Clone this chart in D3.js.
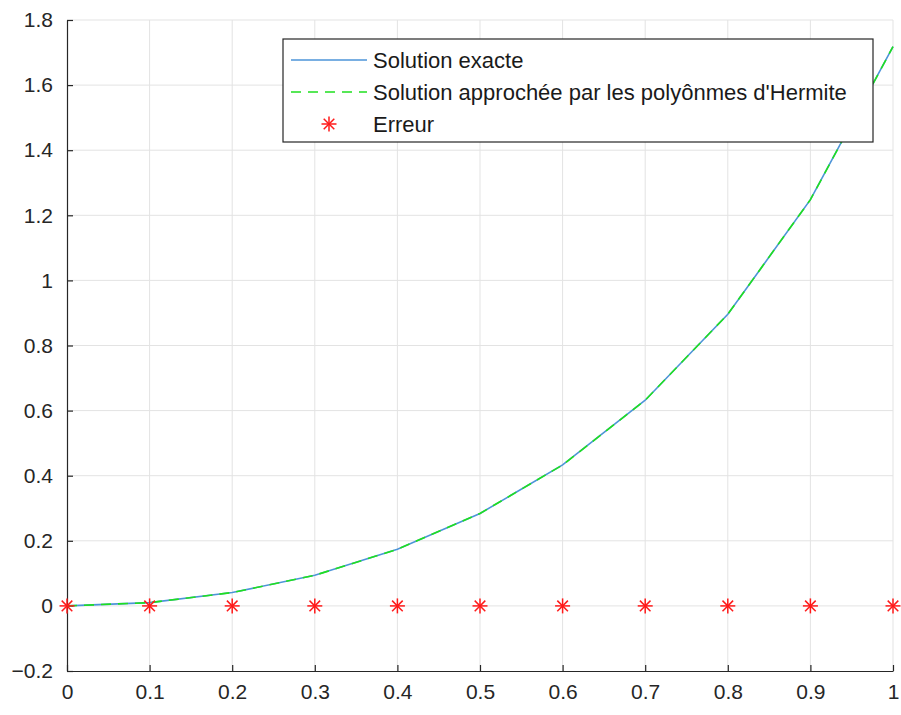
<!DOCTYPE html>
<html>
<head>
<meta charset="utf-8">
<script src="https://cdn.jsdelivr.net/npm/d3@7"></script>
<style>
  html, body { margin: 0; padding: 0; background: #fff; }
  svg { display: block; }
  text { font-family: "Liberation Sans", Arial, sans-serif; }
</style>
</head>
<body>
<svg id="chart" width="901" height="715"></svg>
<script>
const xValues = [0, 0.1, 0.2, 0.3, 0.4, 0.5, 0.6, 0.7, 0.8, 0.9, 1.0];
const exactValues = [0, 0.010, 0.041, 0.094, 0.174, 0.284, 0.433, 0.632, 0.896, 1.248, 1.718];
const hermiteValues = [0, 0.010, 0.041, 0.094, 0.174, 0.284, 0.433, 0.632, 0.896, 1.248, 1.718];
const errorValues = [0, 0, 0, 0, 0, 0, 0, 0, 0, 0, 0];
const xTicks = [0, 0.1, 0.2, 0.3, 0.4, 0.5, 0.6, 0.7, 0.8, 0.9, 1];
const yTicks = [-0.2, 0, 0.2, 0.4, 0.6, 0.8, 1, 1.2, 1.4, 1.6, 1.8];
const legendLabels = ["Solution exacte", "Solution approchée par les polyônmes d'Hermite", "Erreur"];

const svg = d3.select("#chart");
const margin = {left: 67, right: 8, top: 20, bottom: 44};
const W = 901, H = 715;
const x = d3.scaleLinear().domain([0, 1]).range([margin.left, W - margin.right]);
const y = d3.scaleLinear().domain([-0.2, 1.8]).range([H - margin.bottom, margin.top]);

const axisColor = "#262626";
const gridColor = "#e3e3e3";
const fmt = d => d3.format("")(+d.toFixed(1));

// grid
const g = svg.append("g");
g.selectAll(".vg").data(xTicks.slice(1)).enter().append("line")
  .attr("x1", d => x(d)).attr("x2", d => x(d))
  .attr("y1", y(-0.2)).attr("y2", y(1.8))
  .attr("stroke", gridColor).attr("stroke-width", 1);
g.selectAll(".hg").data(yTicks.slice(1)).enter().append("line")
  .attr("x1", x(0)).attr("x2", x(1))
  .attr("y1", d => y(d)).attr("y2", d => y(d))
  .attr("stroke", gridColor).attr("stroke-width", 1);

// axes
const xAxis = d3.axisBottom(x).tickValues(xTicks).tickFormat(fmt).tickSizeInner(-6).tickSizeOuter(0).tickPadding(13);
const yAxis = d3.axisLeft(y).tickValues(yTicks).tickFormat(fmt).tickSizeInner(-6).tickSizeOuter(0).tickPadding(14);

const gx = svg.append("g").attr("transform", `translate(0,${y(-0.2)})`).call(xAxis);
const gy = svg.append("g").attr("transform", `translate(${x(0)},0)`).call(yAxis);
[gx, gy].forEach(a => {
  a.select(".domain").attr("stroke", axisColor).attr("stroke-width", 1.2);
  a.selectAll(".tick line").attr("stroke", axisColor).attr("stroke-width", 1.2);
  a.selectAll(".tick text").attr("fill", axisColor).style("font-size", "21px")
    .style("font-family", "'Liberation Sans', Arial, sans-serif");
});
gx.selectAll(".tick text").attr("dy", "0.71em");

// lines
const line = vals => d3.line().x((d, i) => x(xValues[i])).y(d => y(d))(vals);
svg.append("path").attr("d", line(exactValues))
  .attr("fill", "none").attr("stroke", "#4d94d8").attr("stroke-width", 1.6);
svg.append("path").attr("d", line(hermiteValues))
  .attr("fill", "none").attr("stroke", "#1fe01f").attr("stroke-width", 1.6)
  .attr("stroke-dasharray", "10,7");

// star markers
function star(sel, cx, cy, r) {
  const gg = sel.append("g").attr("transform", `translate(${cx},${cy})`)
    .attr("stroke", "#ff1a1a").attr("stroke-width", 1.5);
  const d = r * Math.SQRT1_2;
  gg.append("line").attr("x1", -r).attr("x2", r).attr("y1", 0).attr("y2", 0);
  gg.append("line").attr("x1", 0).attr("x2", 0).attr("y1", -r).attr("y2", r);
  gg.append("line").attr("x1", -d).attr("x2", d).attr("y1", -d).attr("y2", d);
  gg.append("line").attr("x1", -d).attr("x2", d).attr("y1", d).attr("y2", -d);
}
const mg = svg.append("g");
errorValues.forEach((v, i) => star(mg, x(xValues[i]), y(v), 7.5));

// legend
const lg = svg.append("g");
const lx = 283, ly = 39, lw = 590, lh = 103;
lg.append("rect").attr("x", lx).attr("y", ly).attr("width", lw).attr("height", lh)
  .attr("fill", "#fff").attr("stroke", "#262626").attr("stroke-width", 1.2);
const rows = [60, 92, 124];
lg.append("line").attr("x1", 291).attr("x2", 367).attr("y1", rows[0]).attr("y2", rows[0])
  .attr("stroke", "#4d94d8").attr("stroke-width", 1.6);
lg.append("line").attr("x1", 291).attr("x2", 367).attr("y1", rows[1]).attr("y2", rows[1])
  .attr("stroke", "#1fe01f").attr("stroke-width", 1.6).attr("stroke-dasharray", "10,7");
star(lg, 329, rows[2], 7.5);
legendLabels.forEach((t, i) => {
  lg.append("text").attr("x", 373).attr("y", rows[i]).attr("dy", "0.36em")
    .attr("fill", "#1a1a1a").style("font-size", "22px").text(t);
});
</script>
</body>
</html>
